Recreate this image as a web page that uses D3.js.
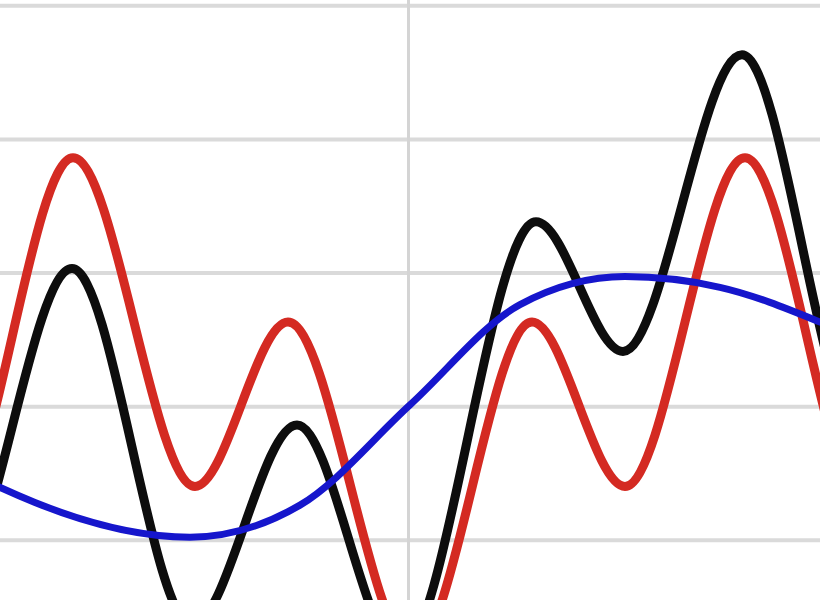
<!DOCTYPE html>
<html>
<head>
<meta charset="utf-8">
<script src="https://cdn.jsdelivr.net/npm/d3@7"></script>
<style>
  body { margin: 0; background: #fff; }
  .grid line { stroke: #dadada; stroke-width: 4px; }
  .grid .domain { display: none; }
  .grid text { display: none; }
  .line-path { fill: none; stroke-linecap: round; stroke-linejoin: round; }
</style>
</head>
<body>
<svg id="chart"></svg>
<script>
// data (x: time offset, y: signal level)
const redX = [-5.8, -4.59, -3.37, -2.15, -1.22, 0.03, 1.22, 2.15, 3.35, 4.59, 5.8];
const redY = [2.86, 0.17, 2.86, 0.40, 1.63, -0.82, 1.63, 0.40, 2.86, 0.17, 2.86];

const blackX = [-5.8, -4.58, -3.38, -2.18, -1.13, -0.10, 1.26, 2.13, 3.32, 4.52, 5.8];
const blackY = [2.0, -0.35, 2.03, -0.64, 0.86, -0.84, 2.38, 1.41, 3.63, 0.78, 3.0];

const blueX = [-5.3, -2.2, -1.1, 0.0, 1.1, 2.15, 3.1, 4.1, 5.3];
const blueY = [0.85, 0.02, 0.26, 1.01, 1.76, 1.97, 1.89, 1.63, 1.2];

const yTicks = [0, 1, 2, 3, 4];
const xTicks = [-0.02];

const width = 820;
const height = 600;

const svg = d3.select("#chart").attr("width", width).attr("height", height);

// scales
const xScale = d3.scaleLinear().domain([-4.1, 4.1]).range([0, width]);
const yScale = d3.scaleLinear().domain([-0.45, 4.04]).range([height, 0]);

// grid
svg.append("g")
  .attr("class", "grid")
  .call(d3.axisLeft(yScale).tickValues(yTicks).tickSize(-width));

const xGrid = svg.append("g")
  .attr("class", "grid")
  .call(d3.axisBottom(xScale).tickValues(xTicks).tickSize(-height))
  .attr("transform", `translate(0, ${height})`);
xGrid.selectAll("line").style("stroke", "#d4d4d4").style("stroke-width", 3);

const lineGenerator = d3.line()
  .x((d) => xScale(d[0]))
  .y((d) => yScale(d[1]))
  .curve(d3.curveMonotoneX);

const series = [
  { xs: redX, ys: redY, color: "#d42a22", w: 9 },
  { xs: blackX, ys: blackY, color: "#0d0d0d", w: 9 },
  { xs: blueX, ys: blueY, color: "#1616cc", w: 7 },
];

svg.append("clipPath").attr("id", "clip")
  .append("rect").attr("width", width).attr("height", height);

const g = svg.append("g").attr("clip-path", "url(#clip)");

series.forEach((s) => {
  g.append("path")
    .attr("class", "line-path")
    .attr("d", lineGenerator(d3.zip(s.xs, s.ys)))
    .style("stroke", s.color)
    .style("stroke-width", s.w);
});
</script>
</body>
</html>
